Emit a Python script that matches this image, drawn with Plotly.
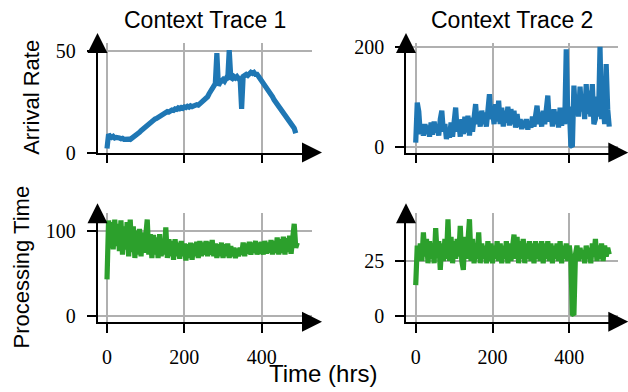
import plotly.graph_objects as go

# ---------------- data ----------------
arrival_1 = [2, 9, 8, 7.5, 8, 7.2, 7.5, 7, 7.2, 6.8, 7, 6.5, 6.7, 6.3, 6.6, 6.5,
             7, 7.3, 8, 8.6, 9.5, 10, 10.8, 11.5, 12.3, 12.8, 13.5, 14.2, 14.8, 15.3,
             15.8, 16.5, 16.8, 17.3, 17.8, 18.5, 18.6, 19.3, 19.5, 20.2, 20, 20.6, 21,
             20.8, 21.5, 21.3, 22, 21.6, 22.2, 21.8, 22.5, 22.2, 22.8, 22.4, 23, 22.6,
             23.2, 23, 23.6, 23.4, 24, 24.3, 25, 25.8, 26.5, 27.5, 29, 30.5, 31.5, 33,
             34, 49, 33, 34.5, 35, 36, 35.2, 36.5, 36, 50.5, 37, 36.5, 37.5, 36.8, 37.5,
             36.5, 37, 21.5, 37.5, 38, 38.5, 38, 39, 39.5, 39, 39.5, 38.5, 38.5, 37.5,
             36.5, 35.5, 34.5, 33.5, 32, 31, 30, 28.5, 27.5, 26, 25, 24, 22.5, 21.5,
             20.5, 19.5, 18.5, 17.5, 16.5, 15.5, 14.5, 13.5, 12, 9.5]

arrival_2 = [8, 88, 70, 25, 40, 22, 45, 25, 42, 20, 48, 24, 50, 28, 45, 22, 55, 72,
             30, 45, 15, 35, 18, 48, 20, 60, 78, 30, 50, 20, 55, 25, 60, 28, 62, 22,
             58, 30, 65, 85, 45, 70, 40, 72, 45, 68, 40, 80, 105, 55, 75, 45, 85, 50,
             92, 45, 78, 40, 72, 48, 80, 42, 75, 45, 72, 38, 65, 40, 55, 35, 52, 38,
             55, 34, 50, 38, 60, 40, 70, 82, 45, 68, 40, 72, 45, 75, 102, 50, 72, 40,
             75, 45, 70, 38, 78, 42, 70, 45, 195, 60, 80, 2, 0, 122, 65, 100, 60, 120,
             70, 105, 55, 125, 65, 112, 60, 125, 45, 55, 100, 60, 200, 55, 90, 45, 165,
             75, 40]

processing_1 = [43, 112, 80, 110, 78, 113, 82, 108, 76, 112, 72, 105, 78, 110, 70,
                113, 75, 105, 68, 100, 72, 102, 70, 98, 74, 100, 113, 72, 96, 68, 95,
                72, 92, 68, 96, 70, 90, 72, 104, 68, 90, 70, 88, 66, 90, 70, 86, 67,
                88, 70, 85, 65, 84, 68, 86, 66, 85, 70, 87, 68, 88, 70, 86, 72, 88, 70,
                87, 72, 89, 70, 85, 68, 84, 70, 86, 68, 84, 70, 85, 68, 82, 70, 80, 68,
                79, 70, 80, 72, 86, 70, 85, 73, 87, 72, 86, 74, 88, 72, 86, 73, 87, 72,
                88, 73, 86, 74, 89, 72, 88, 74, 92, 72, 90, 74, 93, 72, 91, 75, 94, 73,
                92, 108, 80, 86]

processing_2 = [14, 32, 26, 33, 25, 38, 27, 35, 24, 34, 26, 33, 24, 40, 27, 34, 21,
                33, 25, 35, 26, 44, 25, 36, 24, 34, 26, 35, 27, 41, 25, 21, 36, 26, 34,
                44, 25, 35, 24, 33, 26, 38, 24, 33, 26, 32, 24, 34, 25, 33, 24, 32, 26,
                34, 25, 33, 24, 32, 26, 34, 24, 33, 25, 35, 37, 26, 36, 24, 34, 26, 35,
                24, 33, 26, 34, 25, 33, 24, 34, 26, 33, 25, 34, 24, 33, 26, 34, 25, 33,
                24, 32, 26, 33, 25, 34, 24, 32, 26, 33, 25, 32, 26, 1, 0.5, 28, 32, 25,
                31, 26, 30, 24, 32, 26, 31, 24, 33, 27, 35, 25, 32, 26, 33, 25, 32, 27,
                31, 28]

SAMPLE_STEP = 4  # hours between samples

def hours_for(vals):
    return [SAMPLE_STEP * i for i in range(len(vals))]

titles = ["Context Trace 1", "Context Trace 2"]
row_labels = ["Arrival Rate", "Processing Time"]
x_label = "Time (hrs)"
x_ticks = [0, 200, 400]
y_ticks = {"TL": [0, 50], "TR": [0, 200], "BL": [0, 100], "BR": [0, 25]}

BLUE = "#1f77b4"
GREEN = "#2ca02c"

W, H = 628, 392

# panel pixel boxes (left, right, top, bottom)
cols = [(97.5, 312.0), (406.0, 618.3)]
rows = [(43.0, 152.6), (213.3, 321.7)]

def px(x):
    return x / W

def py(y):
    return 1 - y / H

fig = go.Figure()

panels = [
    ("x", "y", arrival_1, BLUE, 0, 0, [-24.6, 530], [0, 54], y_ticks["TL"]),
    ("x2", "y2", arrival_2, BLUE, 0, 1, [-25.3, 527.6], [-12, 207.4], y_ticks["TR"]),
    ("x3", "y3", processing_1, GREEN, 1, 0, [-24.6, 530], [-6.7, 120.4], y_ticks["BL"]),
    ("x4", "y4", processing_2, GREEN, 1, 1, [-25.3, 527.6], [-2.6, 46.7], y_ticks["BR"]),
]

tick_font = dict(family="Liberation Serif", size=20, color="black")
sans = "Liberation Sans"

shapes = []
for i, (xa, ya, vals, color, r, c, xr, yr, yt) in enumerate(panels):
    fig.add_trace(go.Scatter(x=hours_for(vals), y=vals, mode="lines",
                             line=dict(color=color, width=5.2),
                             xaxis=xa, yaxis=ya, showlegend=False, hoverinfo="skip"))
    suffix = "" if i == 0 else str(i + 1)
    L, R = cols[c]
    T, B = rows[r]
    common = dict(showline=True, linecolor="black", linewidth=1.6,
                  ticks="outside", ticklen=9, tickwidth=1.6, tickcolor="black",
                  showgrid=True, gridcolor="#b0b0b0", gridwidth=1.6,
                  zeroline=False, tickfont=tick_font, ticklabelstandoff=7,
                  automargin=False)
    fig.update_layout(**{
        "xaxis" + suffix: dict(domain=[px(L), px(R)], range=xr, anchor=ya,
                               tickvals=x_ticks, showticklabels=(r == 1), **common),
        "yaxis" + suffix: dict(domain=[py(B), py(T)], range=yr, anchor=xa,
                               tickvals=yt, **common),
    })
    a = 10
    # up arrow at top of y spine
    shapes.append(dict(type="path", xref="paper", yref="paper",
                       path=f"M {px(L-a)},{py(T+a)} L {px(L+a)},{py(T+a)} L {px(L)},{py(T-a)} Z",
                       fillcolor="black", line=dict(width=0), layer="above"))
    # right arrow at end of x spine
    shapes.append(dict(type="path", xref="paper", yref="paper",
                       path=f"M {px(R-a)},{py(B-a)} L {px(R-a)},{py(B+a)} L {px(R+a)},{py(B)} Z",
                       fillcolor="black", line=dict(width=0), layer="above"))

annotations = [
    dict(text=titles[0], x=px(204.8), y=py(20.5), xref="paper", yref="paper",
         showarrow=False, font=dict(family=sans, size=23, color="black"),
         xanchor="center", yanchor="middle"),
    dict(text=titles[1], x=px(512.2), y=py(20.5), xref="paper", yref="paper",
         showarrow=False, font=dict(family=sans, size=23, color="black"),
         xanchor="center", yanchor="middle"),
    dict(text=row_labels[0], x=px(32), y=py(97.8), xref="paper", yref="paper",
         showarrow=False, textangle=-90, font=dict(family=sans, size=22, color="black"),
         xanchor="center", yanchor="middle"),
    dict(text=row_labels[1], x=px(21), y=py(267.5), xref="paper", yref="paper",
         showarrow=False, textangle=-90, font=dict(family=sans, size=22, color="black"),
         xanchor="center", yanchor="middle"),
    dict(text=x_label, x=px(323), y=py(373), xref="paper", yref="paper",
         showarrow=False, font=dict(family=sans, size=24, color="black"),
         xanchor="center", yanchor="middle"),
]

fig.update_layout(width=W, height=H, margin=dict(l=0, r=0, t=0, b=0, pad=0),
                  paper_bgcolor="white", plot_bgcolor="white",
                  shapes=shapes, annotations=annotations, showlegend=False)

fig.write_html("out.html", include_plotlyjs=True, full_html=True,
               config={"displayModeBar": False},
               post_script="document.body.style.margin='0px';document.body.style.overflow='hidden';")
